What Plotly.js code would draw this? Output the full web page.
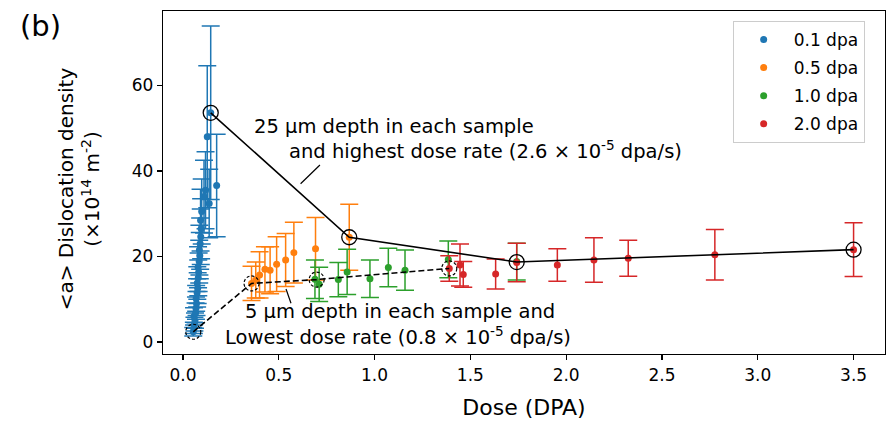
<!DOCTYPE html>
<html>
<head>
<meta charset="utf-8">
<script src="https://cdn.plot.ly/plotly-3.0.1.min.js"></script>
<style>html,body{margin:0;padding:0;background:#fff;}#chart{width:888px;height:426px;}</style>
</head>
<body>
<div id="chart"></div>
<script>
// 0.1 dpa
const blueX = [0.054,0.057,0.060,0.063,0.058,0.066,0.068,0.071,0.069,0.074,0.077,0.075,0.080,0.082,0.079,0.085,0.088,0.086,0.090,0.093,0.095,0.092,0.098,0.110,0.137,0.118,0.176,0.127,0.145];
const blueY = [2.4,3.3,4.2,5.0,6.0,6.8,7.9,9.0,10.2,11.5,12.6,13.8,15.0,16.3,17.5,18.8,20.2,21.5,23.0,24.6,26.5,28.5,30.5,34.0,32.4,35.5,36.6,48.0,53.6];
const blueErr = [1.0,1.3,1.6,1.8,2.0,2.3,2.6,2.8,3.0,3.3,3.6,3.8,4.2,4.5,4.8,5.0,5.4,5.8,6.0,6.5,7.0,7.2,7.6,8.5,8.0,9.0,12.0,16.6,20.3];
// 0.5 dpa
const orangeX = [0.358,0.380,0.400,0.428,0.455,0.489,0.536,0.579,0.692,0.868];
const orangeY = [13.7,14.5,15.7,17.0,16.8,18.2,19.2,20.9,21.8,24.5];
const orangeErr = [4.0,4.2,5.4,5.3,5.5,6.4,6.2,7.1,7.3,7.7];
// 1.0 dpa
const greenX = [0.689,0.711,0.811,0.857,0.976,1.072,1.159,1.385,1.742];
const greenY = [14.7,13.5,14.6,16.4,14.8,17.4,16.8,19.3,18.8];
const greenErr = [4.5,4.0,4.0,5.3,4.4,4.5,4.7,4.3,4.3];
// 2.0 dpa
const redX = [1.390,1.446,1.463,1.632,1.742,1.954,2.145,2.324,2.776,3.500];
const redY = [17.2,18.0,15.8,15.9,18.6,18.0,19.2,19.6,20.4,21.6];
const redErr = [3.0,4.9,3.0,3.5,4.5,3.8,5.2,4.2,5.9,6.3];
// highlighted paths
const highX = [0.145,0.868,1.742,3.500];
const highY = [53.6,24.5,18.7,21.6];
const lowX = [0.054,0.358,0.698,1.390];
const lowY = [2.4,13.7,14.6,17.2];

const seriesNames = ['0.1 dpa','0.5 dpa','1.0 dpa','2.0 dpa'];
const colors = ['#1f77b4','#ff7f0e','#2ca02c','#d62728'];
const xs = [blueX, orangeX, greenX, redX];
const ys = [blueY, orangeY, greenY, redY];
const es = [blueErr, orangeErr, greenErr, redErr];

const FONT = 'DejaVu Sans, sans-serif';
const traces = seriesNames.map((n,i)=>({
  type:'scatter', mode:'markers', name:n, x:xs[i], y:ys[i], legendgroup:'g'+i,
  marker:{color:colors[i], size:7},
  error_y:{type:'data', array:es[i], visible:true, color:colors[i], thickness:1.5, width:9},
  hoverinfo:'skip'
}));
traces.push({type:'scatter', mode:'lines+markers', x:highX, y:highY, showlegend:false,
  line:{color:'black', width:1.6}, marker:{symbol:'circle-open', size:15, color:'black', line:{width:1.3}}, hoverinfo:'skip'});
traces.push({type:'scatter', mode:'lines', x:lowX, y:lowY, showlegend:false,
  line:{color:'black', width:1.6, dash:'6px,3px'}, hoverinfo:'skip'});

const shapes = lowX.map((x,i)=>({type:'circle', xref:'x', yref:'y', xsizemode:'pixel', ysizemode:'pixel',
  xanchor:x, yanchor:lowY[i], x0:-7.5, x1:7.5, y0:-7.5, y1:7.5, line:{color:'black', width:1.2, dash:'3px,2px'}}));
shapes.push({type:'line', xref:'x', yref:'y', x0:0.715, y0:41.4, x1:0.614, y1:37.0, line:{color:'black', width:1.2}});
shapes.push({type:'line', xref:'x', yref:'y', x0:0.538, y0:12.4, x1:0.564, y1:9.05, line:{color:'black', width:1.2}});

const annFont = {family:FONT, size:19.5, color:'black'};
const annotations = [
  {xref:'x', yref:'y', x:0.359, y:50.3, xanchor:'left', yanchor:'middle', showarrow:false, text:'25 μm depth in each sample', font:annFont},
  {xref:'x', yref:'y', x:0.541, y:44.9, xanchor:'left', yanchor:'middle', showarrow:false, text:'and highest dose rate (2.6 × 10<sup>-5</sup> dpa/s)', font:annFont},
  {xref:'x', yref:'y', x:0.313, y:7.2, xanchor:'left', yanchor:'middle', showarrow:false, text:'5 μm depth in each sample and', font:annFont},
  {xref:'x', yref:'y', x:0.209, y:1.4, xanchor:'left', yanchor:'middle', showarrow:false, text:'Lowest dose rate (0.8 × 10<sup>-5</sup> dpa/s)', font:annFont},
  {xref:'paper', yref:'paper', x:-0.116, y:0.481, xanchor:'center', yanchor:'middle', showarrow:false, textangle:-90,
   text:'&lt;a&gt; Dislocation density<br>(×10<sup>14</sup> m<sup>-2</sup>)', font:{family:FONT, size:20, color:'black'}},
  {xref:'paper', yref:'paper', x:-0.169, y:0.955, xanchor:'center', yanchor:'middle', showarrow:false,
   text:'(b)', font:{family:FONT, size:29, color:'black'}}
];

const layout = {
  width:888, height:426,
  margin:{l:163, r:3, t:11, b:72},
  paper_bgcolor:'white', plot_bgcolor:'white',
  font:{family:FONT, size:17, color:'black'},
  showlegend:true,
  legend:{x:0.789, y:0.971, xanchor:'left', yanchor:'top', bgcolor:'white', bordercolor:'#cccccc', borderwidth:1,
    font:{family:FONT, size:17}, traceorder:'grouped', tracegroupgap:3, itemwidth:50,
    entrywidth:142, entrywidthmode:'pixels'},
  xaxis:{range:[-0.104,3.664], tickvals:[0,0.5,1,1.5,2,2.5,3,3.5], tickformat:'.1f',
    showgrid:false, zeroline:false, showline:true, linecolor:'black', linewidth:1.2, mirror:true,
    ticks:'outside', ticklen:5, tickwidth:1.2, tickcolor:'black', tickfont:{size:17},
    title:{text:'Dose (DPA)', font:{size:22}, standoff:16}},
  yaxis:{range:[-2.8,77.4], tickvals:[0,20,40,60],
    showgrid:false, zeroline:false, showline:true, linecolor:'black', linewidth:1.2, mirror:true,
    ticks:'outside', ticklen:5, tickwidth:1.2, tickcolor:'black', tickfont:{size:17}},
  shapes:shapes,
  annotations:annotations
};
Plotly.newPlot('chart', traces, layout, {displayModeBar:false, staticPlot:true});
</script>
</body>
</html>
